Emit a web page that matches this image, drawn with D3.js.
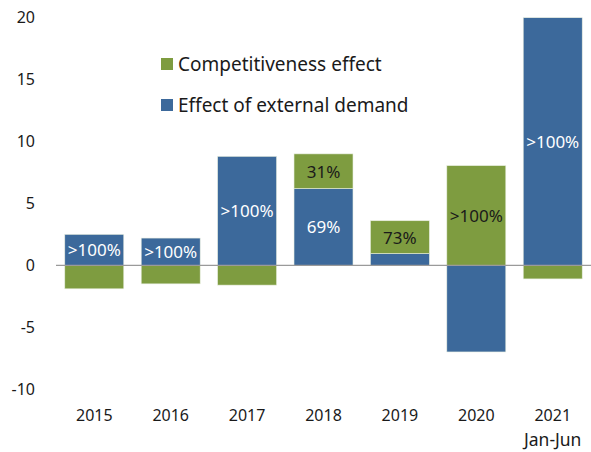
<!DOCTYPE html>
<html>
<head>
	<meta charset="utf-8">
	<script src="https://cdn.jsdelivr.net/npm/d3@7"></script>
	<style>
		body { margin: 0; background: #fff; }
		text { font-family: "Noto Sans", sans-serif; fill: #1a1a1a; }
	</style>
</head>
<body>
	<svg width="591" height="452"></svg>
	<script>
		// data
		var years = ['2015', '2016', '2017', '2018', '2019', '2020', '2021'];
		var external = [2.5, 2.2, 8.8, 6.2, 0.95, -7.0, 20.0];        // effect of external demand
		var competitiveness = [-1.9, -1.5, -1.6, 2.8, 2.65, 8.05, -1.1]; // competitiveness effect
		var yTicks = [-10, -5, 0, 5, 10, 15, 20];
		// labels inside bars: year, series, text
		var labelYears = ['2015', '2016', '2017', '2018', '2018', '2019', '2020', '2021'];
		var labelSeries = ['ext', 'ext', 'ext', 'ext', 'comp', 'comp', 'comp', 'ext'];
		var labelTexts = ['>100%', '>100%', '>100%', '69%', '31%', '73%', '>100%', '>100%'];

		var blue = '#3c699b';
		var green = '#7e9c40';

		var svg = d3.select('svg');

		var x = d3.scaleBand()
			.domain(years)
			.range([56, 591])
			.paddingInner(0.228)
			.paddingOuter(0.115);

		var y = d3.scaleLinear()
			.domain([-10, 20])
			.range([389.1, 17.7]);

		// stack segments: positive values stack upward, negatives downward
		var segs = [];
		years.forEach(function(yr, i) {
			var pos = 0, neg = 0;
			[['ext', external[i]], ['comp', competitiveness[i]]].forEach(function(s) {
				var v = s[1], y0, y1;
				if (v >= 0) { y0 = pos; y1 = pos + v; pos = y1; }
				else { y0 = neg; y1 = neg + v; neg = y1; }
				segs.push({ year: yr, series: s[0], y0: y0, y1: y1 });
			});
		});

		svg.append('g')
			.selectAll('rect')
			.data(segs)
			.enter()
			.append('rect')
			.attr('x', function(d) { return x(d.year); })
			.attr('width', x.bandwidth())
			.attr('y', function(d) { return y(Math.max(d.y0, d.y1)); })
			.attr('height', function(d) { return Math.abs(y(d.y0) - y(d.y1)); })
			.attr('fill', function(d) { return d.series == 'ext' ? blue : green; })
			.attr('stroke', '#e8eee0')
			.attr('stroke-width', 0.6);

		// zero line
		svg.append('line')
			.attr('x1', 56)
			.attr('x2', 591)
			.attr('y1', y(0))
			.attr('y2', y(0))
			.attr('stroke', '#9a9a9a')
			.attr('stroke-width', 1.2);

		// y axis labels (plain hyphen for negatives)
		var yAxis = d3.axisLeft(y)
			.tickValues(yTicks)
			.tickFormat(function(d) { return String(d); })
			.tickSize(0)
			.tickPadding(0);

		svg.append('g')
			.attr('transform', 'translate(35, 0)')
			.call(yAxis)
			.call(function(g) { g.select('.domain').remove(); })
			.selectAll('text')
			.style('font-family', '"Noto Sans", sans-serif')
			.style('font-size', '16px')
			.attr('fill', '#1a1a1a');

		// x labels
		var xAxis = d3.axisBottom(x).tickSize(0).tickPadding(0);
		var gx = svg.append('g')
			.attr('transform', 'translate(0, 410)')
			.call(xAxis);
		gx.select('.domain').remove();
		gx.selectAll('text')
			.style('font-family', '"Noto Sans", sans-serif')
			.style('font-size', '16px')
			.attr('fill', '#1a1a1a');

		svg.append('text')
			.attr('x', x('2021') + x.bandwidth() / 2)
			.attr('y', 446)
			.attr('text-anchor', 'middle')
			.style('font-size', '17.5px')
			.text('Jan-Jun');

		// labels inside segments
		svg.append('g')
			.selectAll('text')
			.data(labelTexts)
			.enter()
			.append('text')
			.attr('x', function(d, i) { return x(labelYears[i]) + x.bandwidth() / 2; })
			.attr('y', function(d, i) {
				var s = segs.filter(function(e) { return e.year == labelYears[i] && e.series == labelSeries[i]; })[0];
				return y((s.y0 + s.y1) / 2);
			})
			.attr('dy', '0.38em')
			.attr('text-anchor', 'middle')
			.style('font-size', '17px')
			.style('fill', function(d, i) { return labelSeries[i] == 'ext' ? '#fff' : '#1a1a1a'; })
			.text(function(d) { return d; });

		// legend
		var legendNames = ['Competitiveness effect', 'Effect of external demand'];
		var legendColors = [green, blue];
		var lg = svg.append('g')
			.selectAll('g')
			.data(legendNames)
			.enter()
			.append('g')
			.attr('transform', function(d, i) { return 'translate(161,' + (58 + i * 41) + ')'; });

		lg.append('rect')
			.attr('width', 12)
			.attr('height', 12)
			.attr('fill', function(d, i) { return legendColors[i]; });

		lg.append('text')
			.attr('x', 17)
			.attr('y', 12.5)
			.style('font-size', '19px')
			.text(function(d) { return d; });
	</script>
</body>
</html>
